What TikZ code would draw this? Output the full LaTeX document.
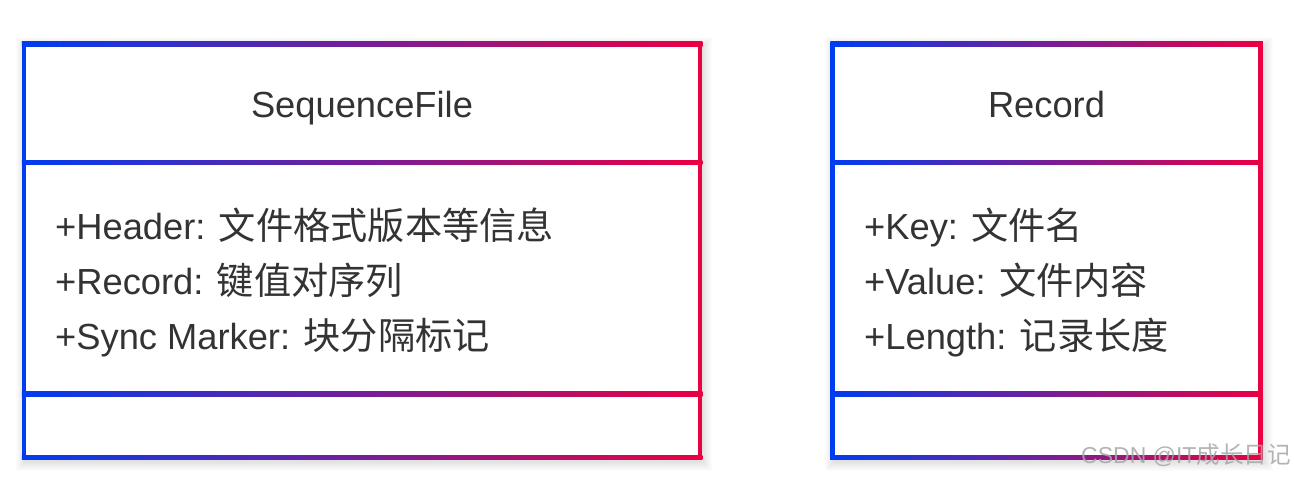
\documentclass[tikz,border=0pt]{standalone}
\usepackage{fontspec}
\setmainfont{Liberation Sans}
\newfontfamily\cjk[Scale=1.025]{Noto Sans CJK SC}
\definecolor{umlblue}{HTML}{003CF0}
\definecolor{umlred}{HTML}{EB0041}
\definecolor{txt}{HTML}{333333}
% #1 left x, #2 right x, #3 top y, #4 divider 1 y, #5 divider 2 y, #6 bottom y
\newcommand\classframe[6]{%
  \foreach \k in {1,...,10}{\fill[black,opacity=0.012] (#1+2-\k,#3+3-\k) rectangle (#2+2+\k,#6+3+\k);}
  \fill[white] (#1,#3) rectangle (#2,#6);
  \shade[gradbar] (#1-2.25,#3-2.25) rectangle (#2+2.25,#3+2.25);
  \shade[gradbar] (#1-2.25,#4-2.25) rectangle (#2+2.25,#4+2.25);
  \shade[gradbar] (#1-2.25,#5-2.25) rectangle (#2+2.25,#5+2.25);
  \shade[gradbar] (#1-2.25,#6-2.25) rectangle (#2+2.25,#6+2.25);
  \fill[umlblue] (#1-2.25,#3-2.25) rectangle (#1+2.25,#6+2.25);
  \fill[umlred] (#2-2.25,#3-2.25) rectangle (#2+2.25,#6+2.25);
}
\begin{document}
\begin{tikzpicture}[x=1pt,y=-1pt,
  gradbar/.style={left color=umlblue,right color=umlred},
  title/.style={font=\fontsize{36.3}{40}\selectfont, text=txt, inner sep=0, anchor=base},
  member/.style={font=\fontsize{36.3}{40}\selectfont, text=txt, inner sep=0, anchor=base west},
  watermark/.style={font=\fontsize{23}{25}\selectfont, text=black!35, opacity=0.85, inner sep=0, anchor=base west}]
\useasboundingbox[fill=white] (0,0) rectangle (1294,478);

% SequenceFile class
\classframe{24}{700}{44}{162.5}{394}{457.5}
\coordinate (seqbox) at (362,251);
\node[title] (seqtitle) at (362,118) {SequenceFile};
\node[member] (seqm1) at (55,240) {+Header: {\cjk 文件格式版本等信息}};
\node[member] (seqm2) at (55,295) {+Record: {\cjk 键值对序列}};
\node[member] (seqm3) at (55,350) {+Sync Marker: {\cjk 块分隔标记}};

% Record class
\classframe{832.5}{1260.5}{44}{162.5}{394}{457.5}
\coordinate (recbox) at (1046.5,251);
\node[title] (rectitle) at (1046.5,118) {Record};
\node[member] (recm1) at (864,240) {+Key: {\cjk 文件名}};
\node[member] (recm2) at (864,295) {+Value: {\cjk 文件内容}};
\node[member] (recm3) at (864,350) {+Length: {\cjk 记录长度}};

% watermark
\node[watermark] (wm) at (1081,464) {CSDN @IT{\cjk 成长日记}};
\end{tikzpicture}
\end{document}
